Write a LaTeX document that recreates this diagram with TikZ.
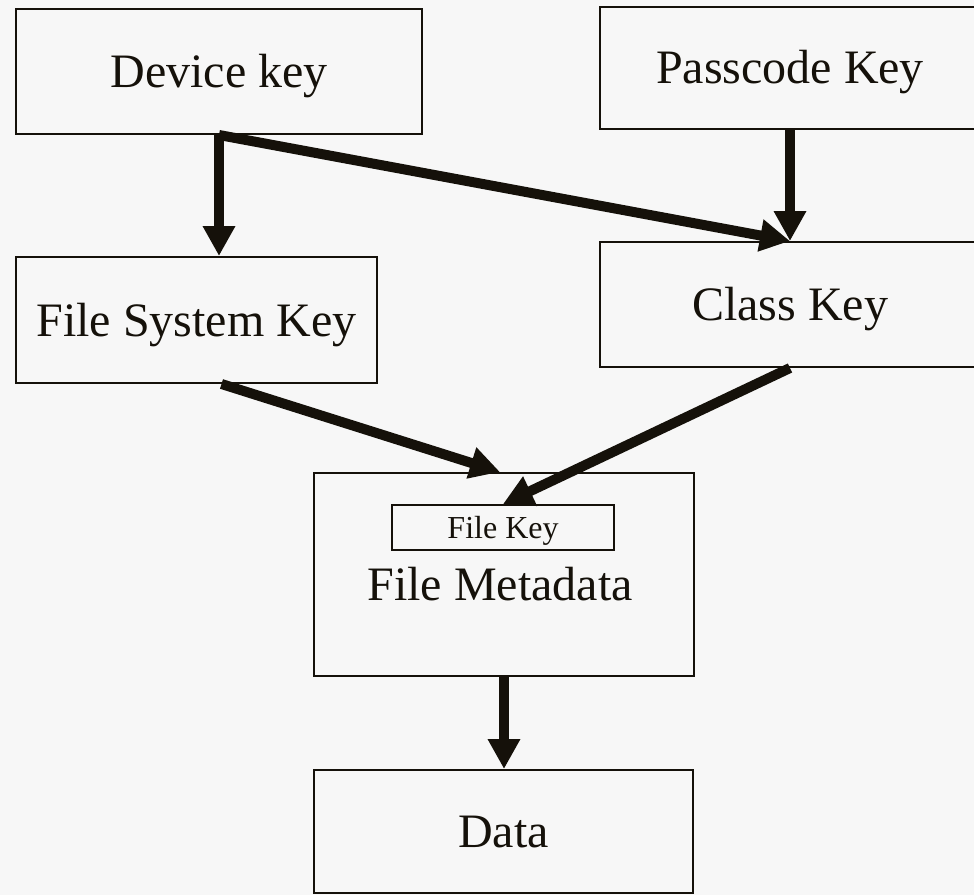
\documentclass[tikz,border=0pt]{standalone}
\usepackage{fontspec}
\setmainfont{Liberation Serif}
\usetikzlibrary{arrows.meta,calc}
\definecolor{bgc}{HTML}{F7F7F7}
\definecolor{ink}{HTML}{15110A}
\tikzset{
  box/.style={draw=ink, line width=1.5pt, rectangle, inner sep=0pt, text=ink,
    font=\fontsize{36}{40}\selectfont, text height=24pt, text depth=0pt, align=center},
  smallbox/.style={box, font=\fontsize{24}{28}\selectfont, text height=16pt},
  conn/.style={draw=ink, line width=7.5pt, -{Triangle[width=23pt,length=22.5pt]}, shorten >=0pt}
}
\begin{document}
\begin{tikzpicture}[x=0.75pt,y=-0.75pt]
\fill[bgc] (0,0) rectangle (974,895);
\useasboundingbox (0,0) rectangle (974,895);
\clip (0,0) rectangle (974,895);
\node[box, minimum width=304.5pt, minimum height=93.75pt] (dev) at (219,71.5) {Device key};
\node[box, minimum width=285pt, minimum height=91.5pt] (pass) at (790,68) {Passcode Key};
\node[box, minimum width=270.75pt, minimum height=94.5pt] (fsk) at (196.5,320) {File System Key};
\node[box, minimum width=285pt, minimum height=93.75pt] (class) at (790,304.5) {Class Key};
\node[box, minimum width=285pt, minimum height=152.25pt] (fm) at (504,574.5) {};
\node[smallbox, minimum width=166.5pt, minimum height=33.75pt] (fk) at (503,527.5) {File Key};
\node[text=ink, font=\fontsize{36}{40}\selectfont, text height=24pt, text depth=0pt, inner sep=0pt] (fmt) at (500,584.5) {File Metadata};
\node[box, minimum width=284.25pt, minimum height=92.25pt] (data) at (503.5,831.5) {Data};
\draw[conn] (dev.south) -- (dev.south |- fsk.north);
\draw[conn] (dev.south) -- (class.north);
\draw[conn] (pass.south) -- (class.north);
\draw[conn] ($(fsk.south)+(25,0)$) -- ($(fm.north)+(-4,0)$);
\draw[conn] (class.south) -- (fk.north);
\draw[conn] (fm.south) -- (fm.south |- data.north);
\end{tikzpicture}
\end{document}
